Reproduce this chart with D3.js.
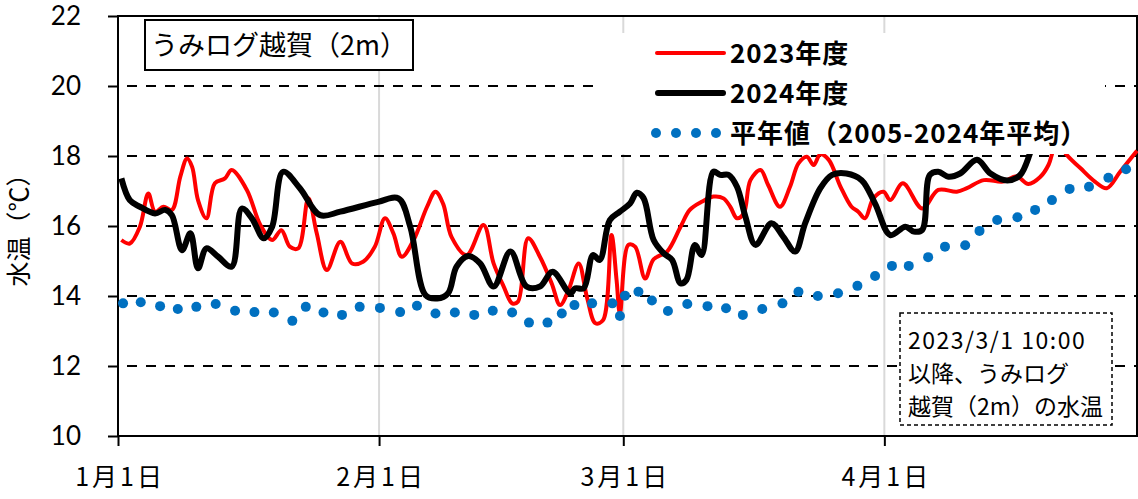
<!DOCTYPE html>
<html>
<head>
<meta charset="utf-8">
<script src="https://cdn.jsdelivr.net/npm/d3@7"></script>
<style>
  body { margin: 0; background: #fff; }
  svg { display: block; }
</style>
</head>
<body>
<div class="container"></div>
<script>
(function() {
  // chart data (days counted from Jan 1)
  var monthTicks = [0, 31, 60, 91];
  var monthLabels = ['1月1日', '2月1日', '3月1日', '4月1日'];
  var yTicks = [10, 12, 14, 16, 18, 20, 22];

  var days2023 = [0.4, 1.4, 2.6, 3.6, 4.4, 5.4, 6.4, 7.4, 8.2, 8.8, 9.5, 10.5, 11.5, 12.7, 13.5, 15.3, 16.9, 18.3,
    19.4, 20.4, 21.4, 22.6, 23.6, 24.8, 26.4, 27.8, 29.1, 30.5, 31.7, 32.7, 33.7, 35.1, 36.7, 37.7, 38.6, 39.6,
    41.4, 43.4, 44.6, 45.8, 46.8, 47.5, 48.7, 50.1, 51.5, 52.5, 53.5, 54.7, 55.7, 56.7, 57.6, 58.6, 59.2, 59.6,
    60.6, 61.4, 62.6, 63.6, 65.2, 66.8, 67.9, 69.3, 70.7, 71.9, 72.7, 73.5, 74.3, 75.1, 76.3, 77.2, 78.6, 79.8,
    80.8, 81.8, 82.6, 83.4, 84.4, 85.8, 87.1, 87.9, 88.7, 89.7, 90.9, 91.7, 93.2, 95.5, 97.4, 99.6, 100.8, 102.8,
    105.1, 106.7, 108.1, 109.5, 110.5, 111.1, 111.8, 112.5, 114.3, 116.0, 117.4, 119.0, 121.0];
  var temps2023 = [15.6, 15.5, 15.98, 16.93, 16.41, 16.55, 16.46, 17.41, 17.93, 17.69, 16.74, 16.22, 17.22, 17.36, 17.6, 17.03, 16.03, 15.6,
    15.88, 15.41, 15.36, 16.79, 15.79, 14.74, 15.55, 14.93, 14.98, 15.41, 16.22, 15.79, 15.12, 15.6, 16.55, 16.98, 16.64, 15.69,
    15.17, 16.03, 14.93, 14.27, 13.79, 13.84, 15.65, 15.12, 14.36, 13.74, 14.17, 14.93, 13.95, 13.22, 13.31, 15.74, 14.46, 13.5,
    15.46, 15.41, 14.5, 15.05, 15.27, 15.98, 16.46, 16.69, 16.84, 16.79, 16.55, 16.22, 16.36, 17.31, 17.6, 17.17, 16.55, 17.12,
    17.79, 17.98, 17.74, 18.05, 17.89, 17.12, 16.55, 16.41, 16.22, 16.79, 16.98, 16.74, 17.22, 16.5, 17.03, 16.98, 17.08, 17.31,
    17.27, 17.42, 17.2, 17.4, 17.75, 18.2, 18.5, 18.08, 17.65, 17.27, 17.08, 17.55, 18.15];

  var days2024 = [0.4, 1.4, 2.6, 4.4, 5.6, 6.4, 7.6, 8.6, 9.5, 10.5, 11.9, 13.5, 14.7, 15.9, 17.3, 18.3, 19.6, 21.6,
    24.0, 26.4, 30.9, 33.3, 34.7, 36.5, 37.9, 39.2, 40.2, 41.6, 43.0, 44.6, 46.6, 48.5, 50.1, 51.6, 53.7, 54.3,
    55.3, 56.4, 57.2, 58.4, 59.6, 60.8, 61.6, 62.4, 63.6, 64.8, 65.8, 66.8, 67.5, 68.5, 69.3, 70.7, 71.5, 72.5,
    73.5, 74.5, 75.7, 77.6, 79.0, 80.4, 81.6, 83.4, 84.8, 86.5, 88.3, 89.9, 91.7, 93.5, 94.5, 95.5, 96.4, 97.4,
    98.6, 100.0, 102.0, 103.6, 105.6, 107.1, 108.3, 109.0];
  var temps2024 = [17.36, 16.74, 16.55, 16.36, 16.46, 16.31, 15.31, 15.79, 14.79, 15.36, 15.12, 14.84, 16.5, 16.22, 15.65, 15.98, 17.55, 17.08,
    16.31, 16.41, 16.69, 16.79, 15.98, 14.03, 13.93, 14.08, 14.84, 15.14, 14.93, 14.27, 15.27, 14.27, 14.27, 14.69, 14.08, 14.22,
    14.22, 15.17, 15.03, 16.17, 16.41, 16.64, 16.95, 16.8, 15.6, 15.22, 15.03, 14.36, 14.46, 15.46, 15.17, 17.55, 17.46, 17.46,
    17.12, 16.27, 15.46, 16.08, 15.69, 15.27, 16.08, 17.08, 17.46, 17.5, 17.31, 16.64, 15.74, 15.98, 15.84, 15.89, 17.46, 17.55,
    17.41, 17.5, 17.89, 17.5, 17.3, 17.45, 18.08, 18.6];

  var daysAvg = [0.6, 2.7, 5.0, 7.1, 9.3, 11.6, 13.9, 16.2, 18.5, 20.7, 22.3, 24.4, 26.6, 28.7, 31.1, 33.5, 35.5, 37.7,
    40.0, 42.3, 44.5, 46.8, 48.8, 51.0, 52.7, 54.2, 56.3, 58.7, 59.6, 60.2, 61.8, 63.4, 65.3, 67.6, 70.0, 72.2,
    74.2, 76.5, 78.9, 80.8, 83.1, 85.5, 87.8, 89.9, 91.9, 93.9, 96.2, 98.2, 100.6, 102.3, 104.4, 106.8, 108.9,
    110.9, 113.0, 115.3, 117.6, 119.7];
  var tempsAvg = [13.79, 13.82, 13.71, 13.63, 13.69, 13.77, 13.58, 13.54, 13.53, 13.29, 13.69, 13.53, 13.46, 13.69, 13.66, 13.54, 13.72, 13.5,
    13.53, 13.46, 13.58, 13.53, 13.24, 13.24, 13.5, 13.74, 13.79, 13.79, 13.43, 14.01, 14.12, 13.87, 13.57, 13.77, 13.71, 13.65,
    13.46, 13.63, 13.79, 14.12, 14.0, 14.08, 14.29, 14.57, 14.86, 14.86, 15.11, 15.41, 15.45, 15.86, 16.17, 16.25, 16.46,
    16.74, 17.06, 17.12, 17.38, 17.62];

  var legendLabels = ['2023年度', '2024年度', '平年値（2005-2024年平均）'];
  var noteLines = ['2023/3/1 10:00', '以降、うみログ', '越賀（2m）の水温'];
  var titleText = 'うみログ越賀（2m）';

  var W = 1138, H = 499;
  var left = 118, right = 1137, top = 16, bottom = 436;
  var jp = '"Noto Sans CJK JP", sans-serif';

  var svg = d3.select('div.container').append('svg').attr('width', W).attr('height', H);

  var x = d3.scaleLinear().domain([0, 121]).range([left, right]);
  var y = d3.scaleLinear().domain([10, 22]).range([bottom, top]);

  // vertical grid (grey)
  svg.append('g').selectAll('line').data(monthTicks.slice(1)).enter().append('line')
    .attr('x1', function(d) { return x(d); }).attr('x2', function(d) { return x(d); })
    .attr('y1', top).attr('y2', bottom)
    .attr('stroke', '#d9d9d9').attr('stroke-width', 2);

  // horizontal dashed grid
  svg.append('g').selectAll('line').data(yTicks.slice(1, -1)).enter().append('line')
    .attr('x1', left + 9).attr('x2', right)
    .attr('y1', function(d) { return y(d); }).attr('y2', function(d) { return y(d); })
    .attr('stroke', '#000').attr('stroke-width', 2).attr('stroke-dasharray', '10,9');

  // axes
  var yAxis = svg.append('g').attr('transform', 'translate(' + left + ',0)')
    .call(d3.axisLeft(y).tickValues(yTicks).tickSize(10).tickPadding(27).tickFormat(d3.format('d')));
  yAxis.select('.domain').remove();
  yAxis.selectAll('line').attr('stroke-width', 2);
  yAxis.selectAll('text').attr('font-family', 'Lato, sans-serif').attr('font-size', 26).attr('fill', '#000');

  var xAxis = svg.append('g').attr('transform', 'translate(0,' + bottom + ')')
    .call(d3.axisBottom(x).tickValues(monthTicks).tickSize(10).tickPadding(22)
      .tickFormat(function(d, i) { return monthLabels[i]; }));
  xAxis.select('.domain').remove();
  xAxis.selectAll('line').attr('stroke-width', 2);
  xAxis.selectAll('text').attr('font-family', jp).attr('font-size', 25).attr('letter-spacing', 3)
    .attr('dx', 1.5).attr('fill', '#000');

  // plot frame
  svg.append('rect').attr('x', left).attr('y', top).attr('width', right - left).attr('height', bottom - top)
    .attr('fill', 'none').attr('stroke', '#000').attr('stroke-width', 2);

  // series
  var line = d3.line()
    .x(function(d) { return x(d[0]); })
    .y(function(d) { return y(d[1]); })
    .curve(d3.curveCatmullRom.alpha(0.5));

  svg.append('path').datum(d3.zip(days2023, temps2023))
    .attr('d', line).attr('fill', 'none').attr('stroke', '#ff0000').attr('stroke-width', 4)
    .attr('stroke-linejoin', 'round');

  svg.append('path').datum(d3.zip(days2024, temps2024))
    .attr('d', line).attr('fill', 'none').attr('stroke', '#000').attr('stroke-width', 6)
    .attr('stroke-linejoin', 'round');

  svg.append('g').selectAll('circle').data(d3.zip(daysAvg, tempsAvg)).enter().append('circle')
    .attr('cx', function(d) { return x(d[0]); })
    .attr('cy', function(d) { return y(d[1]); })
    .attr('r', 5).attr('fill', '#0070c0');

  // legend (white box hides lines behind it)
  var lg = svg.append('g');
  lg.append('rect').attr('x', 600).attr('y', 33).attr('width', 505).attr('height', 121).attr('fill', '#fff');
  lg.append('line').attr('x1', 657).attr('x2', 724).attr('y1', 53).attr('y2', 53)
    .attr('stroke', '#ff0000').attr('stroke-width', 4).attr('stroke-linecap', 'round');
  lg.append('line').attr('x1', 658).attr('x2', 723).attr('y1', 93).attr('y2', 93)
    .attr('stroke', '#000').attr('stroke-width', 6).attr('stroke-linecap', 'round');
  lg.selectAll('circle').data([0, 1, 2, 3]).enter().append('circle')
    .attr('cx', function(d) { return 656 + d * 20; }).attr('cy', 133).attr('r', 5).attr('fill', '#0070c0');
  lg.selectAll('text').data(legendLabels).enter().append('text')
    .attr('x', 730).attr('y', function(d, i) { return 63 + i * 40; })
    .attr('font-family', jp).attr('font-weight', 'bold').attr('font-size', 26).attr('letter-spacing', 1)
    .attr('fill', '#000')
    .text(function(d) { return d; });

  // title box
  svg.append('rect').attr('x', 145).attr('y', 20).attr('width', 268).attr('height', 50)
    .attr('fill', '#fff').attr('stroke', '#000').attr('stroke-width', 2);
  svg.append('text').attr('x', 279).attr('y', 55).attr('text-anchor', 'middle')
    .attr('font-family', jp).attr('font-size', 27).attr('fill', '#000').text(titleText);

  // note box
  svg.append('rect').attr('x', 900).attr('y', 313).attr('width', 212).attr('height', 112)
    .attr('fill', '#fff').attr('stroke', '#000').attr('stroke-width', 1.5).attr('stroke-dasharray', '4,3');
  svg.append('g').selectAll('text').data(noteLines).enter().append('text')
    .attr('x', 908).attr('y', function(d, i) { return 349 + i * 33; })
    .attr('font-family', jp).attr('font-size', 23).attr('letter-spacing', function(d, i) { return i === 0 ? 1.5 : 0; })
    .attr('fill', '#000')
    .text(function(d) { return d; });

  // y axis title
  svg.append('text').attr('transform', 'translate(28,224) rotate(-90)').attr('text-anchor', 'middle')
    .attr('font-family', jp).attr('font-size', 25).attr('fill', '#000').text('水温（℃）');
}).call(this);
</script>
</body>
</html>
